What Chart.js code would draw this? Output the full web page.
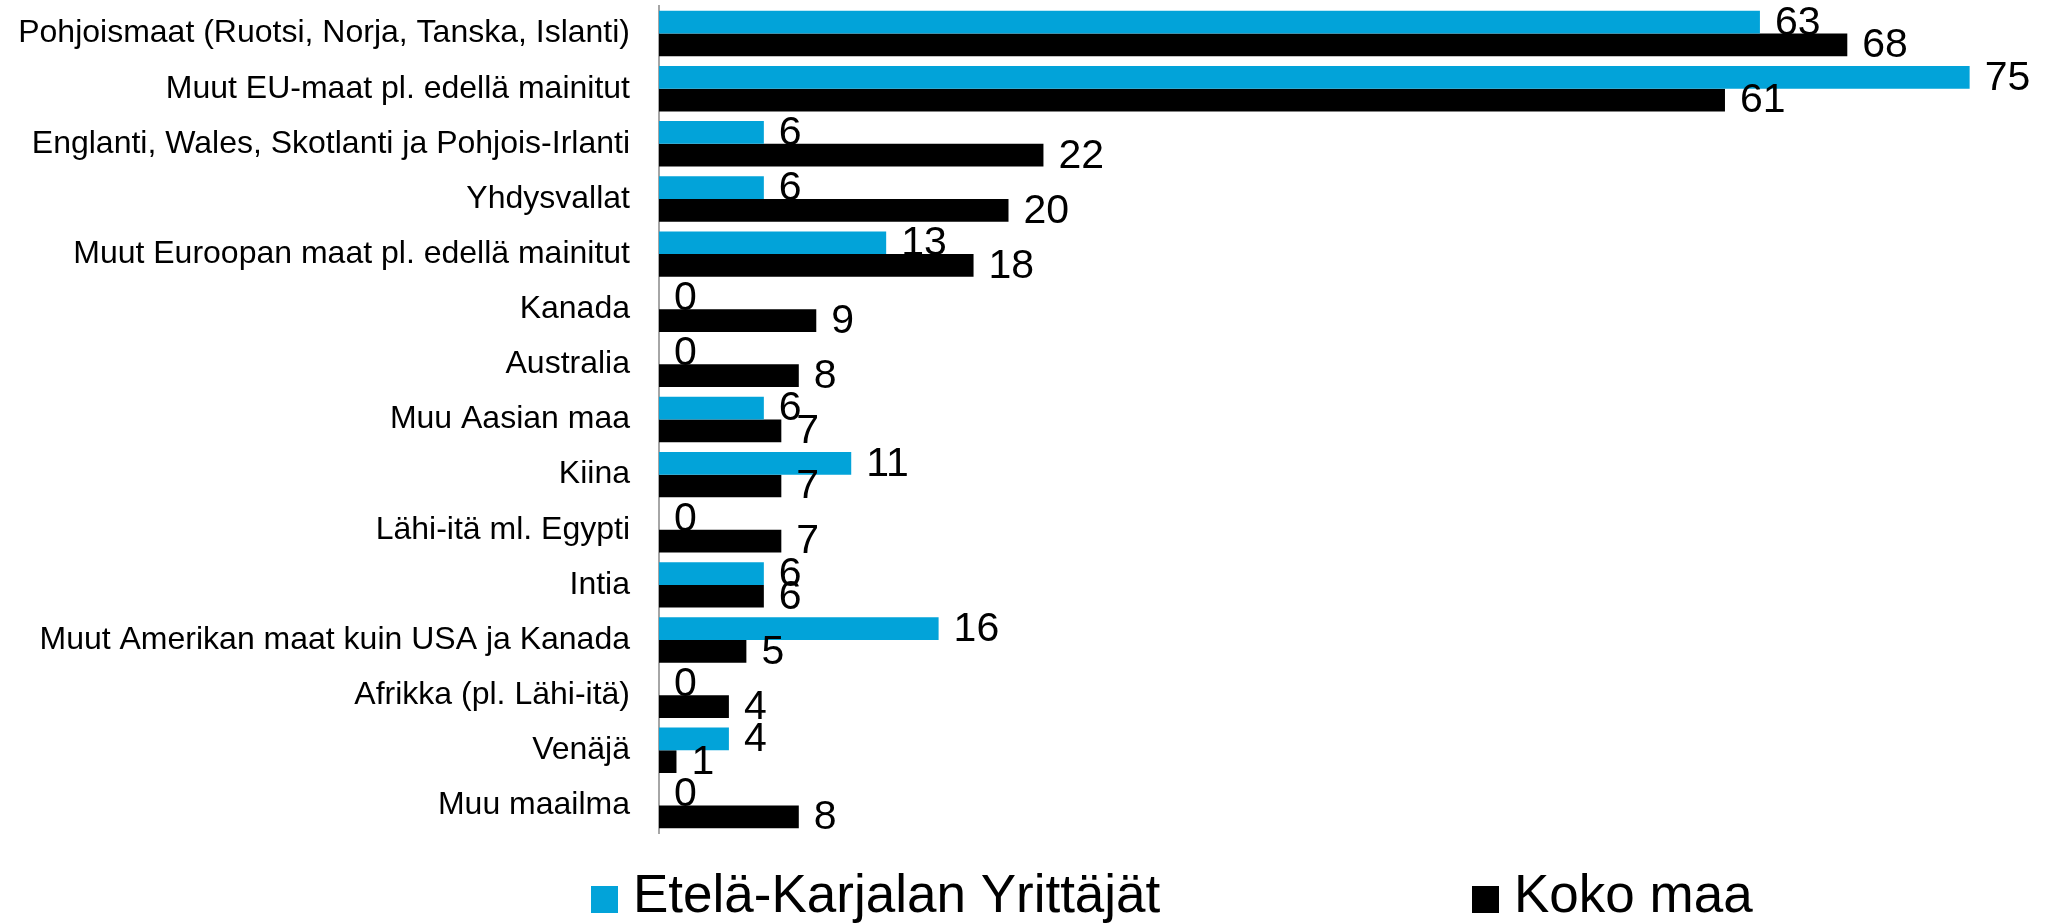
<!DOCTYPE html>
<html>
<head>
<meta charset="utf-8">
<script src="https://cdn.jsdelivr.net/npm/chart.js@4.4.1/dist/chart.umd.min.js"></script>
<style>
  html, body { margin: 0; padding: 0; background: #fff; }
  #wrap { width: 2057px; height: 924px; position: relative; }
</style>
</head>
<body>
<div id="wrap"><canvas id="chart"></canvas></div>
<script>
  const categories = [
    "Pohjoismaat (Ruotsi, Norja, Tanska, Islanti)",
    "Muut EU-maat pl. edellä mainitut",
    "Englanti, Wales, Skotlanti ja Pohjois-Irlanti",
    "Yhdysvallat",
    "Muut Euroopan maat pl. edellä mainitut",
    "Kanada",
    "Australia",
    "Muu Aasian maa",
    "Kiina",
    "Lähi-itä ml. Egypti",
    "Intia",
    "Muut Amerikan maat kuin USA ja Kanada",
    "Afrikka (pl. Lähi-itä)",
    "Venäjä",
    "Muu maailma",
  ];
  const seriesNames = ["Etelä-Karjalan Yrittäjät", "Koko maa"];
  const etelaKarjala = [63, 75, 6, 6, 13, 0, 0, 6, 11, 0, 6, 16, 0, 4, 0];
  const kokoMaa = [68, 61, 22, 20, 18, 9, 8, 7, 7, 7, 6, 5, 4, 1, 8];
  const X_MAX = 80;

  const FONT = '"Liberation Sans", Arial, sans-serif';
  const BLUE = "#02a3d9";
  const BLACK = "#000000";

  // numbers at the end of each bar
  const valueLabels = {
    id: "valueLabels",
    afterDatasetsDraw(chart) {
      const { ctx } = chart;
      ctx.save();
      ctx.font = `41px ${FONT}`;
      ctx.fillStyle = "#000";
      ctx.textAlign = "left";
      ctx.textBaseline = "middle";
      chart.data.datasets.forEach((ds, i) => {
        chart.getDatasetMeta(i).data.forEach((bar, j) => {
          ctx.fillText(String(ds.data[j]), bar.x + 15, bar.y + 1);
        });
      });
      ctx.restore();
    },
  };

  // excel-like legend under the plot, items spread apart
  const legendX = [591, 1472];
  const bottomLegend = {
    id: "bottomLegend",
    afterDraw(chart) {
      const { ctx } = chart;
      ctx.save();
      ctx.font = `53px ${FONT}`;
      ctx.textAlign = "left";
      ctx.textBaseline = "alphabetic";
      chart.data.datasets.forEach((ds, i) => {
        const x = legendX[i];
        ctx.fillStyle = ds.backgroundColor;
        ctx.fillRect(x, 886, 27, 27);
        ctx.fillStyle = "#000";
        ctx.fillText(ds.label, x + 42, 912);
      });
      ctx.restore();
    },
  };

  new Chart(document.getElementById("chart"), {
    type: "bar",
    data: {
      labels: categories,
      datasets: [
        { label: seriesNames[0], data: etelaKarjala, backgroundColor: BLUE },
        { label: seriesNames[1], data: kokoMaa, backgroundColor: BLACK },
      ],
    },
    options: {
      indexAxis: "y",
      responsive: true,
      maintainAspectRatio: false,
      animation: false,
      categoryPercentage: 0.824,
      barPercentage: 1,
      layout: { padding: { top: 6, bottom: 91, left: 0, right: 0 } },
      scales: {
        x: { display: false, min: 0, max: X_MAX },
        y: {
          grid: { display: false, drawTicks: false },
          border: { display: true, color: "#a6a6a6", width: 2 },
          afterFit: (scale) => {
            scale.width = 659;
            scale.paddingTop = 0;
            scale.paddingBottom = 0;
          },
          ticks: {
            color: "#000",
            padding: 29,
            autoSkip: false,
            font: { family: FONT, size: 32 },
          },
        },
      },
      plugins: {
        legend: { display: false },
        tooltip: { enabled: false },
      },
    },
    plugins: [valueLabels, bottomLegend],
  });
</script>
</body>
</html>
